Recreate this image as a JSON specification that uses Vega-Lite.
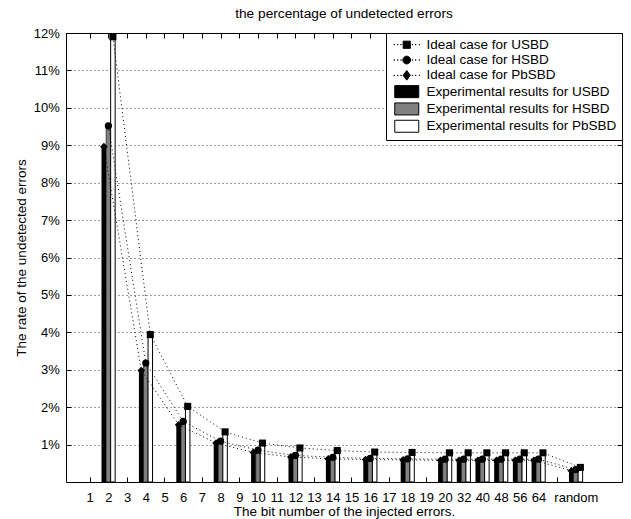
{
  "$schema": "https://vega.github.io/schema/vega-lite/v6.json",
  "width": 556,
  "height": 449,
  "autosize": {"type": "none"},
  "padding": {"left": 66, "top": 33, "right": 9, "bottom": 37},
  "title": {"text": "the percentage of undetected errors", "fontSize": 13.7, "fontWeight": "normal", "baseline": "alphabetic", "offset": 13, "dy": 18, "anchor": "middle", "color": "black", "font": "Liberation Sans"},
  "config": {
    "font": "Liberation Sans",
    "view": {"stroke": "black", "strokeWidth": 1},
    "axis": {"labelColor": "black", "titleColor": "black", "titleFontWeight": "normal", "tickColor": "black", "domain": false, "labelFont": "Liberation Sans", "titleFont": "Liberation Sans"}
  },
  "data": {"values": [
    {"pos": 2, "label": "2", "series": "USBD", "ideal": 11.9, "exp": 8.96},
    {"pos": 4, "label": "4", "series": "USBD", "ideal": 3.94, "exp": 2.98},
    {"pos": 6, "label": "6", "series": "USBD", "ideal": 2.02, "exp": 1.53},
    {"pos": 8, "label": "8", "series": "USBD", "ideal": 1.34, "exp": 1.04},
    {"pos": 10, "label": "10", "series": "USBD", "ideal": 1.04, "exp": 0.79},
    {"pos": 12, "label": "12", "series": "USBD", "ideal": 0.91, "exp": 0.67},
    {"pos": 14, "label": "14", "series": "USBD", "ideal": 0.84, "exp": 0.62},
    {"pos": 16, "label": "16", "series": "USBD", "ideal": 0.8, "exp": 0.6},
    {"pos": 18, "label": "18", "series": "USBD", "ideal": 0.79, "exp": 0.59},
    {"pos": 20, "label": "20", "series": "USBD", "ideal": 0.78, "exp": 0.58},
    {"pos": 21, "label": "32", "series": "USBD", "ideal": 0.78, "exp": 0.58},
    {"pos": 22, "label": "40", "series": "USBD", "ideal": 0.78, "exp": 0.58},
    {"pos": 23, "label": "48", "series": "USBD", "ideal": 0.78, "exp": 0.58},
    {"pos": 24, "label": "56", "series": "USBD", "ideal": 0.78, "exp": 0.58},
    {"pos": 25, "label": "64", "series": "USBD", "ideal": 0.78, "exp": 0.58},
    {"pos": 27, "label": "random", "series": "USBD", "ideal": 0.39, "exp": 0.3},
    {"pos": 2, "label": "2", "series": "HSBD", "ideal": 9.52, "exp": 9.5},
    {"pos": 4, "label": "4", "series": "HSBD", "ideal": 3.18, "exp": 3.15},
    {"pos": 6, "label": "6", "series": "HSBD", "ideal": 1.62, "exp": 1.6},
    {"pos": 8, "label": "8", "series": "HSBD", "ideal": 1.09, "exp": 1.07},
    {"pos": 10, "label": "10", "series": "HSBD", "ideal": 0.85, "exp": 0.83},
    {"pos": 12, "label": "12", "series": "HSBD", "ideal": 0.71, "exp": 0.7},
    {"pos": 14, "label": "14", "series": "HSBD", "ideal": 0.66, "exp": 0.65},
    {"pos": 16, "label": "16", "series": "HSBD", "ideal": 0.63, "exp": 0.62},
    {"pos": 18, "label": "18", "series": "HSBD", "ideal": 0.62, "exp": 0.61},
    {"pos": 20, "label": "20", "series": "HSBD", "ideal": 0.61, "exp": 0.6},
    {"pos": 21, "label": "32", "series": "HSBD", "ideal": 0.61, "exp": 0.6},
    {"pos": 22, "label": "40", "series": "HSBD", "ideal": 0.61, "exp": 0.6},
    {"pos": 23, "label": "48", "series": "HSBD", "ideal": 0.61, "exp": 0.6},
    {"pos": 24, "label": "56", "series": "HSBD", "ideal": 0.61, "exp": 0.6},
    {"pos": 25, "label": "64", "series": "HSBD", "ideal": 0.61, "exp": 0.6},
    {"pos": 27, "label": "random", "series": "HSBD", "ideal": 0.33, "exp": 0.32},
    {"pos": 2, "label": "2", "series": "PbSBD", "ideal": 8.96, "exp": 11.9},
    {"pos": 4, "label": "4", "series": "PbSBD", "ideal": 2.98, "exp": 3.94},
    {"pos": 6, "label": "6", "series": "PbSBD", "ideal": 1.53, "exp": 2.02},
    {"pos": 8, "label": "8", "series": "PbSBD", "ideal": 1.04, "exp": 1.34},
    {"pos": 10, "label": "10", "series": "PbSBD", "ideal": 0.79, "exp": 1.04},
    {"pos": 12, "label": "12", "series": "PbSBD", "ideal": 0.67, "exp": 0.91},
    {"pos": 14, "label": "14", "series": "PbSBD", "ideal": 0.62, "exp": 0.84},
    {"pos": 16, "label": "16", "series": "PbSBD", "ideal": 0.6, "exp": 0.8},
    {"pos": 18, "label": "18", "series": "PbSBD", "ideal": 0.59, "exp": 0.79},
    {"pos": 20, "label": "20", "series": "PbSBD", "ideal": 0.58, "exp": 0.78},
    {"pos": 21, "label": "32", "series": "PbSBD", "ideal": 0.58, "exp": 0.78},
    {"pos": 22, "label": "40", "series": "PbSBD", "ideal": 0.58, "exp": 0.78},
    {"pos": 23, "label": "48", "series": "PbSBD", "ideal": 0.58, "exp": 0.78},
    {"pos": 24, "label": "56", "series": "PbSBD", "ideal": 0.58, "exp": 0.78},
    {"pos": 25, "label": "64", "series": "PbSBD", "ideal": 0.58, "exp": 0.78},
    {"pos": 27, "label": "random", "series": "PbSBD", "ideal": 0.3, "exp": 0.39}
  ]},
  "layer": [
    {
      "transform": [{"filter": "datum.series == 'USBD'"}],
      "mark": {"type": "bar", "width": 4.8, "xOffset": -4.5, "color": "black"},
      "encoding": {
        "x": {"field": "pos", "type": "quantitative", "scale": {"domain": [0, 29.2], "nice": false, "zero": false},
          "axis": {"orient": "bottom", "values": [1,2,3,4,5,6,7,8,9,10,11,12,13,14,15,16,17,18,19,20,21,22,23,24,25,26,27],
            "labelExpr": "['','1','2','3','4','5','6','7','8','9','10','11','12','13','14','15','16','17','18','19','20','32','40','48','56','64','','random'][datum.value]",
            "labelOverlap": false, "labelFlush": false, "labelFontSize": 13, "labelBaseline": "alphabetic", "labelPadding": 24.3, "tickSize": -5, "grid": false,
            "title": "The bit number of the injected errors.", "titleFontSize": 13.5, "titleBaseline": "alphabetic", "titleY": 33.6, "titleX": 278, "titleAlign": "center"}},
        "y": {"field": "exp", "type": "quantitative", "scale": {"domain": [0, 12], "nice": false},
          "axis": {"orient": "left", "values": [1,2,3,4,5,6,7,8,9,10,11,12], "labelExpr": "datum.value + '%'", "labelFontSize": 13, "labelPadding": 11.7, "tickSize": -5,
            "grid": true, "gridDash": [1, 3], "gridColor": "black", "gridOpacity": 0.75, "gridWidth": 1,
            "title": "The rate of the undetected errors", "titleFontSize": 13.5, "titleAngle": 270, "titleX": -45, "titleY": 224.5, "titleAlign": "center", "titleBaseline": "middle"}}
      }
    },
    {
      "transform": [{"filter": "datum.series == 'HSBD'"}],
      "mark": {"type": "bar", "width": 4.5, "xOffset": 0, "fill": "#808080", "stroke": "black", "strokeWidth": 0.6},
      "encoding": {
        "x": {"field": "pos", "type": "quantitative", "axis": {"orient": "top", "values": [1,2,3,4,5,6,7,8,9,10,11,12,13,14,15,16,17,18,19,20,21,22,23,24,25,26,27], "labels": false, "tickSize": -5, "grid": false, "title": null}},
        "y": {"field": "exp", "type": "quantitative", "axis": {"orient": "right", "values": [1,2,3,4,5,6,7,8,9,10,11,12], "labels": false, "tickSize": -5, "grid": false, "title": null}}
      }
    },
    {
      "transform": [{"filter": "datum.series == 'PbSBD'"}],
      "mark": {"type": "bar", "width": 4.5, "xOffset": 4.5, "fill": "white", "stroke": "black", "strokeWidth": 1},
      "encoding": {
        "x": {"field": "pos", "type": "quantitative", "axis": null},
        "y": {"field": "exp", "type": "quantitative", "axis": null}
      }
    },
    {
      "transform": [{"filter": "datum.series == 'USBD'"}],
      "mark": {"type": "line", "xOffset": 4.5, "color": "black", "strokeWidth": 1, "strokeDash": [1, 3]},
      "encoding": {"x": {"field": "pos", "type": "quantitative", "axis": null}, "y": {"field": "ideal", "type": "quantitative", "axis": null}}
    },
    {
      "transform": [{"filter": "datum.series == 'HSBD'"}],
      "mark": {"type": "line", "xOffset": 0, "color": "black", "strokeWidth": 1, "strokeDash": [1, 3]},
      "encoding": {"x": {"field": "pos", "type": "quantitative", "axis": null}, "y": {"field": "ideal", "type": "quantitative", "axis": null}}
    },
    {
      "transform": [{"filter": "datum.series == 'PbSBD'"}],
      "mark": {"type": "line", "xOffset": -4.5, "color": "black", "strokeWidth": 1, "strokeDash": [1, 3]},
      "encoding": {"x": {"field": "pos", "type": "quantitative", "axis": null}, "y": {"field": "ideal", "type": "quantitative", "axis": null}}
    },
    {
      "transform": [{"filter": "datum.series == 'USBD'"}],
      "mark": {"type": "point", "shape": "square", "filled": true, "color": "black", "size": 50, "opacity": 1, "xOffset": 4.5},
      "encoding": {"x": {"field": "pos", "type": "quantitative", "axis": null}, "y": {"field": "ideal", "type": "quantitative", "axis": null}}
    },
    {
      "transform": [{"filter": "datum.series == 'HSBD'"}],
      "mark": {"type": "point", "shape": "circle", "filled": true, "color": "black", "size": 52, "opacity": 1, "xOffset": 0},
      "encoding": {"x": {"field": "pos", "type": "quantitative", "axis": null}, "y": {"field": "ideal", "type": "quantitative", "axis": null}}
    },
    {
      "transform": [{"filter": "datum.series == 'PbSBD'"}],
      "mark": {"type": "point", "shape": "diamond", "filled": true, "color": "black", "size": 60, "opacity": 1, "xOffset": -4.5},
      "encoding": {"x": {"field": "pos", "type": "quantitative", "axis": null}, "y": {"field": "ideal", "type": "quantitative", "axis": null}}
    },
    {
      "data": {"values": [
        {"key": "Ideal case for USBD"},
        {"key": "Ideal case for HSBD"},
        {"key": "Ideal case for PbSBD"},
        {"key": "Experimental results for USBD"},
        {"key": "Experimental results for HSBD"},
        {"key": "Experimental results for PbSBD"}
      ]},
      "mark": {"type": "point", "filled": true, "opacity": 0, "strokeWidth": 1},
      "encoding": {
        "shape": {"field": "key", "type": "nominal",
          "scale": {"domain": ["Ideal case for USBD", "Ideal case for HSBD", "Ideal case for PbSBD", "Experimental results for USBD", "Experimental results for HSBD", "Experimental results for PbSBD"],
            "range": [
              "M-2.14,-0.04h0.08v0.08h-0.08ZM-1.54,-0.04h0.08v0.08h-0.08ZM-0.99,-0.04h0.08v0.08h-0.08ZM0.91,-0.04h0.08v0.08h-0.08ZM1.46,-0.04h0.08v0.08h-0.08ZM2.06,-0.04h0.08v0.08h-0.08ZM-0.6,-0.6H0.6V0.6H-0.6Z",
              "M-2.14,-0.04h0.08v0.08h-0.08ZM-1.54,-0.04h0.08v0.08h-0.08ZM-0.99,-0.04h0.08v0.08h-0.08ZM0.91,-0.04h0.08v0.08h-0.08ZM1.46,-0.04h0.08v0.08h-0.08ZM2.06,-0.04h0.08v0.08h-0.08ZM0.65,0A0.65,0.65 0 1,1 -0.65,0A0.65,0.65 0 1,1 0.65,0Z",
              "M-2.14,-0.04h0.08v0.08h-0.08ZM-1.54,-0.04h0.08v0.08h-0.08ZM-0.99,-0.04h0.08v0.08h-0.08ZM0.91,-0.04h0.08v0.08h-0.08ZM1.46,-0.04h0.08v0.08h-0.08ZM2.06,-0.04h0.08v0.08h-0.08ZM0,-0.8L0.6,0L0,0.8L-0.6,0Z",
              "M-2,-1H2V1H-2Z",
              "M-2,-1H2V1H-2Z",
              "M-2,-1H2V1H-2Z"
            ]},
          "legend": {"title": null, "orient": "top-right", "offset": 0, "padding": 5, "strokeColor": "black", "fillColor": "white",
            "labelFontSize": 13.5, "labelColor": "black", "labelFont": "Liberation Sans", "labelLimit": 400,
            "symbolSize": 144, "rowPadding": 0.3, "symbolOffset": 9, "labelOffset": 13,
            "symbolStrokeColor": "black", "symbolStrokeWidth": 1, "symbolOpacity": 1,
            "encode": {"symbols": {"update": {"opacity": {"value": 1}, "stroke": {"value": "black"}, "strokeWidth": {"value": 1}}}}}},
        "fill": {"field": "key", "type": "nominal",
          "scale": {"domain": ["Ideal case for USBD", "Ideal case for HSBD", "Ideal case for PbSBD", "Experimental results for USBD", "Experimental results for HSBD", "Experimental results for PbSBD"],
            "range": ["black", "black", "black", "black", "#808080", "white"]}},
        "stroke": {"field": "key", "type": "nominal",
          "scale": {"domain": ["Ideal case for USBD", "Ideal case for HSBD", "Ideal case for PbSBD", "Experimental results for USBD", "Experimental results for HSBD", "Experimental results for PbSBD"],
            "range": ["black", "black", "black", "black", "black", "black"]}}
      }
    }
  ]
}
